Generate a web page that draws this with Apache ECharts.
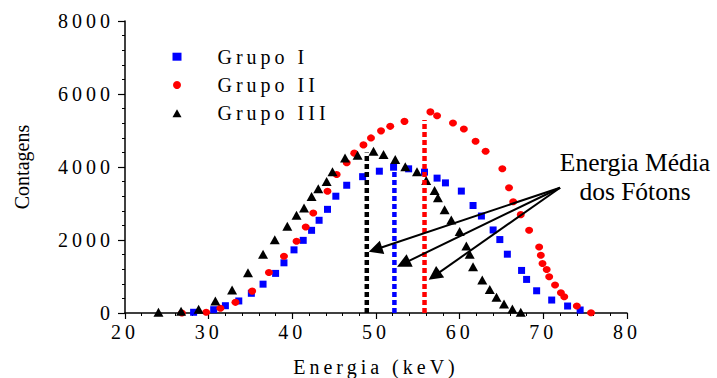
<!DOCTYPE html>
<html><head><meta charset="utf-8">
<script src="https://cdn.jsdelivr.net/npm/echarts@6/dist/echarts.min.js"></script>
<style>
html,body{margin:0;padding:0;background:#fff}
#chart{width:717px;height:378px}
</style>
</head><body><div id="chart"></div>
<script>
// ---- data (energy keV, counts) ----
const seriesNames = ['Grupo I', 'Grupo II', 'Grupo III'];
const grupoI = [
  [28.2,20],[30.6,90],[32.0,200],[33.6,330],[35.1,540],[36.5,790],[38.0,1085],[39.0,1375],
  [40.2,1730],[41.3,1990],[42.3,2265],[43.2,2540],[44.2,2840],[45.2,3200],[46.5,3500],
  [48.4,3735],[50.4,3885],[52.1,3995],[53.9,3950],[55.8,3860],[57.3,3695],[58.3,3565],
  [60.2,3340],[61.6,2945],[62.6,2657],[64.0,2275],[64.8,2012],[65.7,1611],[67.4,1166],
  [68.0,920],[69.2,609],[71.0,355],[72.9,191],[74.4,82]
];
const grupoII = [
  [26.8,0],[29.7,20],[31.4,128],[33.2,292],[35.2,600],[37.2,1111],[39.0,1556],[40.5,1966],
  [41.6,2356],[42.5,2740],[44.2,3335],[45.3,3795],[46.5,4115],[47.4,4380],[48.5,4606],
  [49.4,4797],[50.6,4990],[51.7,5114],[53.4,5250],[56.5,5510],[57.3,5406],[59.2,5207],
  [60.5,5043],[61.9,4705],[63.1,4431],[65.1,3951],[65.9,3432],[66.4,3050],[67.3,2695],
  [68.3,2266],[69.5,1810],[69.7,1584],[69.9,1357],[70.4,1193],[70.7,991],[71.4,765],
  [72.1,554],[72.5,445],[74.0,191],[75.7,8]
];
const grupoIII = [
  [24.0,20],[26.7,50],[28.8,100],[30.8,330],[32.8,630],[34.7,1100],[36.5,1610],[37.9,2010],
  [39.4,2376],[40.5,2676],[41.4,2880],[42.3,3195],[43.1,3405],[44.1,3604],[44.8,3870],
  [46.3,4250],[47.8,4320],[49.7,4431],[50.9,4341],[52.3,4205],[53.5,4010],[54.9,3870],
  [56.0,3631],[57.0,3358],[57.4,3159],[58.2,2831],[59.0,2550],[60.0,2230],[60.8,1838],
  [61.2,1611],[61.6,1270],[62.7,901],[63.6,647],[64.4,429],[65.3,246],[66.3,109],[67.3,19]
];
// mean photon energy markers (keV) and the height of each dotted line (counts)
const meanEnergy = [52.2, 55.8, 48.9];
const meanTop = [3990, 5290, 4400];
// arrows: start point and end point in data coordinates
const arrowFrom = [72.0, 3432];
const arrowTo = [[49.93, 1739], [53.27, 1354], [56.98, 1018]];
const annotationText = 'Energia Média\ndos Fótons';
const xTicks = {min: 20, max: 80, step: 10};
const yTicks = {min: 0, max: 8000, step: 2000};

const colors = ['#0000ff', '#ff0000', '#000000'];
const symbols = ['rect', 'circle', 'triangle'];
const symSizes = [[7,7], [8,7], [10,9]];
const FONT = 'Liberation Serif';

const chart = echarts.init(document.getElementById('chart'), null, {renderer: 'svg'});

const scatterData = [grupoI, grupoII, grupoIII];
const series = scatterData.map((d, i) => ({
  name: seriesNames[i], type: 'scatter', data: d,
  symbol: symbols[i], symbolSize: symSizes[i],
  itemStyle: {color: colors[i], opacity: 1}, z: 2
}));
meanEnergy.forEach((e, i) => {
  series.push({
    type: 'line', data: [[e, 0], [e, meanTop[i]]], showSymbol: false, symbol: 'none',
    lineStyle: {color: colors[i], width: 4.5, type: [5, 3], cap: 'butt'}, z: 3, silent: true
  });
});
series.push({
  type: 'line', data: [], z: 4, silent: true,
  markLine: {
    silent: true, animation: false,
    symbol: ['none', 'triangle'], symbolSize: 14,
    label: {show: false},
    lineStyle: {color: '#000', width: 2, type: 'solid'},
    emphasis: {disabled: true},
    data: arrowTo.map(t => [{coord: arrowFrom}, {coord: t}])
  }
});

const axisCommon = {
  axisLine: {show: true, onZero: false, lineStyle: {color: '#000', width: 1.5}},
  axisTick: {show: true, inside: false, length: 6, lineStyle: {color: '#000', width: 1.2}},
  minorTick: {show: true, splitNumber: 5, length: 3, lineStyle: {color: '#000', width: 1}},
  splitLine: {show: false}, minorSplitLine: {show: false},
  nameTextStyle: {color: '#000', fontFamily: FONT, fontSize: 20},
  nameMoveOverlap: false
};

chart.setOption({
  animation: false,
  backgroundColor: '#fff',
  textStyle: {fontFamily: FONT},
  grid: {left: 125, right: 90, top: 21, bottom: 65, containLabel: false, outerBoundsMode: 'none'},
  legend: {
    show: true, orient: 'vertical', left: 172.5, top: 46.7, itemGap: 8.3,
    itemWidth: 9, itemHeight: 8, padding: 0,
    data: seriesNames.map((n, i) => ({name: n, icon: symbols[i]})),
    textStyle: {color: '#000', fontFamily: FONT, fontSize: 20, padding: [0, 0, 0, 31]},
    selectedMode: false
  },
  xAxis: Object.assign({}, axisCommon, {
    type: 'value', min: xTicks.min, max: xTicks.max, interval: xTicks.step,
    name: 'Energia (keV)', nameLocation: 'middle', nameGap: 44,
    axisLabel: {color: '#000', fontFamily: FONT, fontSize: 20, margin: 9,
                formatter: v => String(v)}
  }),
  yAxis: Object.assign({}, axisCommon, {
    type: 'value', min: yTicks.min, max: yTicks.max, interval: yTicks.step,
    name: 'Contagens', nameLocation: 'middle', nameGap: 93,
    axisTick: Object.assign({}, axisCommon.axisTick, {length: 7}),
    axisLabel: {color: '#000', fontFamily: FONT, fontSize: 20, margin: 11,
                formatter: v => String(v)}
  }),
  graphic: [{
    type: 'text', x: 635, y: 177, z: 10, silent: true,
    style: {text: annotationText, font: '25.5px "Liberation Serif", serif', fill: '#000',
            textAlign: 'center', textVerticalAlign: 'middle', lineHeight: 29}
  }],
  series: series
});

// serif face and letter spacing written inline on every text node
function styleTexts() {
  const spaced = new Set(seriesNames.concat(['Energia (keV)']));
  document.querySelectorAll('#chart text, #chart tspan').forEach(t => {
    const s = t.textContent;
    t.style.setProperty('font-family', "'Liberation Serif', serif", 'important');
    if (spaced.has(s) || /^\d+$/.test(s)) t.style.setProperty('letter-spacing', '4px');
  });
}
styleTexts();
chart.on('finished', styleTexts);
chart.on('rendered', styleTexts);
</script>
</body></html>
